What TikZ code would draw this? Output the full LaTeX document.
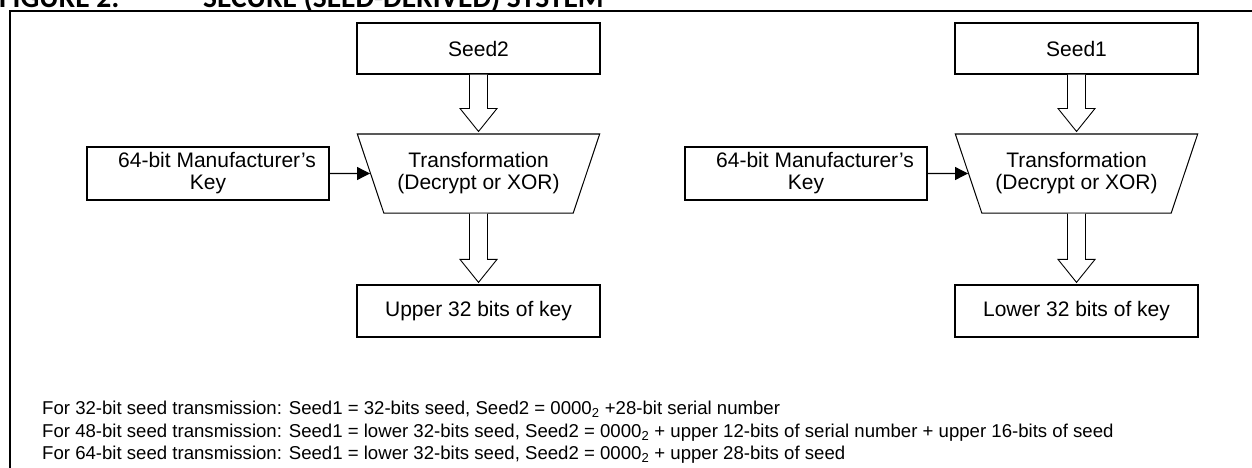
\documentclass[tikz,border=0pt]{standalone}
\usepackage{fontspec}
\setmainfont{Liberation Sans}
\newfontfamily\titlefont{Carlito}
\usetikzlibrary{shapes.geometric,arrows.meta,calc}
\newcommand\hollowarrow[2]{%
  \draw[hollow] ($(#1)+(-9,0)$) -- ($(#2)+(-9,-25)$) -- ($(#2)+(-18.5,-25)$)
    -- ($(#2)+(0,-2)$) -- ($(#2)+(18.5,-25)$) -- ($(#2)+(9,-25)$) -- ($(#1)+(9,0)$);}
\begin{document}
\begin{tikzpicture}[x=1pt,y=-1pt,
  box/.style={draw,line width=1.2pt,minimum width=243pt,minimum height=51pt,inner sep=0pt,
    font=\fontsize{21}{22}\selectfont,align=center},
  trap/.style={draw,line width=1pt,trapezium,shape border rotate=180,trapezium stretches=true,
    minimum width=243pt,minimum height=79pt,trapezium left angle=61.4,trapezium right angle=61.4,
    inner sep=0pt,font=\fontsize{21}{22}\selectfont,align=center},
  hollow/.style={draw,line width=0.9pt,fill=white},
  feed/.style={line width=1.2pt,-{Triangle[length=13pt,width=13pt]}},
  note/.style={anchor=base west,inner sep=0pt,font=\fontsize{18.6}{21}\selectfont},
  ttl/.style={anchor=base west,inner sep=0pt,font=\titlefont\bfseries\fontsize{29.5}{34}\selectfont}]
\useasboundingbox (0,0) rectangle (1252,468);
\clip (0,0) rectangle (1252,468);
\fill[white] (0,0) rectangle (1252,468);
% title (cut by the top edge)
\node[ttl] (t1) at (-1,8) {FIGURE 2:};
\node[ttl] (t2) at (203,8) {SECURE (SEED-DERIVED) SYSTEM};
% frame
\draw[line width=2.2pt] (10,470) -- (10,11) -- (1254,11);
% left column
\node[box] (s2) at (478.5,48.5) {Seed2};
\node[trap] (trL) at (478.5,173.5) {Transformation\\(Decrypt or XOR)};
\node[box,minimum height=52pt] (up) at (478.5,311) {Upper 32 bits of key};
\node[box,minimum width=242pt,minimum height=53pt] (kL) at (208,173.5) {\hspace*{18pt}64-bit Manufacturer’s\\Key};
\hollowarrow{s2.south}{trL.north}
\hollowarrow{trL.south}{up.north}
\draw[feed] (kL) -- (trL);
% right column
\node[box] (s1) at (1076.5,48.5) {Seed1};
\node[trap] (trR) at (1076.5,173.5) {Transformation\\(Decrypt or XOR)};
\node[box,minimum height=52pt] (lo) at (1076.5,311) {Lower 32 bits of key};
\node[box,minimum width=242pt,minimum height=53pt] (kR) at (806,173.5) {\hspace*{18pt}64-bit Manufacturer’s\\Key};
\hollowarrow{s1.south}{trR.north}
\hollowarrow{trR.south}{lo.north}
\draw[feed] (kR) -- (trR);
% notes
\node[note] (n1) at (42,414) {For 32-bit seed transmission: Seed1 = 32-bits seed, Seed2 = 0000\textsubscript{2} +28-bit serial number};
\node[note] (n2) at (42,437) {For 48-bit seed transmission: Seed1 = lower 32-bits seed, Seed2 = 0000\textsubscript{2} + upper 12-bits of serial number + upper 16-bits of seed};
\node[note] (n3) at (42,459) {For 64-bit seed transmission: Seed1 = lower 32-bits seed, Seed2 = 0000\textsubscript{2} + upper 28-bits of seed};
\end{tikzpicture}
\end{document}
